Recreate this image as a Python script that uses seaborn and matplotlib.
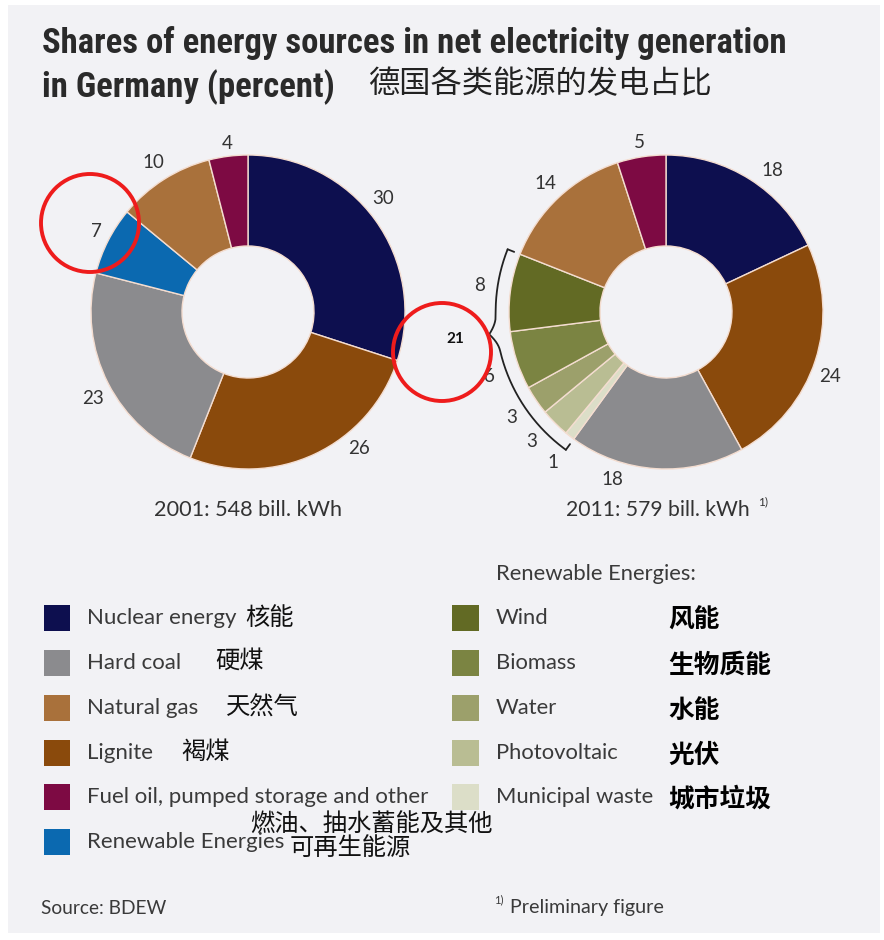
import numpy as np
import matplotlib
matplotlib.use("Agg")
import matplotlib.pyplot as plt
from matplotlib import font_manager
from matplotlib.patches import Rectangle, Circle
import seaborn as sns

# ---- data -------------------------------------------------------------
cats_2001 = ["Nuclear energy", "Lignite", "Hard coal", "Renewable Energies",
             "Natural gas", "Fuel oil, pumped storage and other"]
vals_2001 = [30, 26, 23, 7, 10, 4]

cats_2011 = ["Nuclear energy", "Lignite", "Hard coal", "Municipal waste",
             "Photovoltaic", "Water", "Biomass", "Wind", "Natural gas",
             "Fuel oil, pumped storage and other"]
vals_2011 = [18, 24, 18, 1, 3, 3, 6, 8, 14, 5]
renewables = ["Wind", "Biomass", "Water", "Photovoltaic", "Municipal waste"]

legend_main = ["Nuclear energy", "Hard coal", "Natural gas", "Lignite",
               "Fuel oil, pumped storage and other", "Renewable Energies"]
legend_main_zh = ["核能", "硬煤", "天然气", "褐煤", "燃油、抽水蓄能及其他", "可再生能源"]
legend_ren_zh = ["风能", "生物质能", "水能", "光伏", "城市垃圾"]

total_2001 = "2001: 548 bill. kWh"
total_2011 = "2011: 579 bill. kWh"

colors = {
    "Nuclear energy": "#0d0f4f",
    "Lignite": "#8a4a0c",
    "Hard coal": "#8b8b8e",
    "Renewable Energies": "#0b69b0",
    "Natural gas": "#a9713b",
    "Fuel oil, pumped storage and other": "#7d0a43",
    "Wind": "#626a24",
    "Biomass": "#7b8442",
    "Water": "#9ca06b",
    "Photovoltaic": "#b9bd93",
    "Municipal waste": "#dcdec8",
}

sns.set_theme(style="white")
plt.rcParams["font.family"] = ["Lato", "DejaVu Sans"]


def first_font(cands):
    for c in cands:
        try:
            font_manager.findfont(font_manager.FontProperties(family=c),
                                  fallback_to_default=False)
            return c
        except Exception:
            continue
    return "DejaVu Sans"


TITLE_FONT = first_font(["Liberation Sans Narrow", "Roboto Condensed",
                         "Open Sans Condensed", "Roboto", "Liberation Sans"])

W, H = 884, 940
fig = plt.figure(figsize=(W / 100, H / 100), dpi=100)
fig.patch.set_facecolor("white")

# background panel (pixel coordinates)
bg = fig.add_axes([0, 0, 1, 1], zorder=0)
bg.set_xlim(0, W)
bg.set_ylim(H, 0)
bg.axis("off")
bg.add_patch(Rectangle((8, 5), 872, 928, facecolor="#f2f2f5", edgecolor="none"))

TXT = "#333333"
R_OUT, R_IN = 157, 66
LIM = 1.5


def donut_axes(cx, cy):
    ax = fig.add_axes([(cx - R_OUT * LIM) / W, (H - cy - R_OUT * LIM) / H,
                       2 * LIM * R_OUT / W, 2 * LIM * R_OUT / H], zorder=2)
    return ax


def draw_donut(ax, cats, vals, angle_off, dists):
    pal = sns.color_palette([colors[c] for c in cats])
    wedges, _ = ax.pie(vals, colors=pal, startangle=90, counterclock=False,
                       radius=1.0,
                       wedgeprops=dict(width=1 - R_IN / R_OUT,
                                       edgecolor="#f4ddd0", linewidth=1.0))
    ax.set_xlim(-LIM, LIM)
    ax.set_ylim(-LIM, LIM)
    ax.set_aspect("equal")
    ax.axis("off")
    for w, v, off, d in zip(wedges, vals, angle_off, dists):
        mid = np.deg2rad((w.theta1 + w.theta2) / 2 + off)
        ax.text(d * np.cos(mid), d * np.sin(mid), str(v), ha="center",
                va="center", fontsize=13.5, color=TXT)
    return wedges


# ---- 2001 -------------------------------------------------------------
ax1 = donut_axes(248, 312)
draw_donut(ax1, cats_2001, vals_2001,
           angle_off=[4, 14, 2, -1, 0, 0],
           dists=[1.12, 1.12, 1.13, 1.09, 1.13, 1.08])

# ---- 2011 -------------------------------------------------------------
ax2 = donut_axes(666, 312)
w2 = draw_donut(ax2, cats_2011, vals_2011,
                angle_off=[-4.6, -3.6, -14, 1, -1, 0, 2, -1, 0, 0],
                dists=[1.13, 1.12, 1.12, 1.2, 1.19, 1.19, 1.2, 1.2, 1.12, 1.09])

# curly bracket around the renewable wedges
ren_w = [w for w, c in zip(w2, cats_2011) if c in renewables]
a0 = min(w.theta1 for w in ren_w)
a1 = max(w.theta2 for w in ren_w)
tip = (a0 + a1) / 2 - 9
th = np.linspace(a0, a1, 400)
r = 1.085 + 0.05 * np.clip(1 - np.abs(th - tip) / 6.0, 0, None) ** 2
ax2.plot(r * np.cos(np.deg2rad(th)), r * np.sin(np.deg2rad(th)),
         color="#222222", lw=1.3, solid_capstyle="round")
for a in (a0, a1):
    rr = np.array([1.085, 1.04])
    ax2.plot(rr * np.cos(np.deg2rad(a)), rr * np.sin(np.deg2rad(a)),
             color="#222222", lw=1.3)
ren_total = sum(v for v, c in zip(vals_2011, cats_2011) if c in renewables)
ax2.text(1.35 * np.cos(np.deg2rad(tip)), 1.35 * np.sin(np.deg2rad(tip)),
         str(ren_total), ha="center", va="center", fontsize=11,
         fontweight="bold", color="#111111")

# ---- overlay: titles, legend, notes -----------------------------------
ov = fig.add_axes([0, 0, 1, 1], zorder=3)
ov.set_xlim(0, W)
ov.set_ylim(H, 0)
ov.axis("off")

t1 = ov.text(42, 43, "Shares of energy sources in net electricity generation",
             family=[TITLE_FONT, "DejaVu Sans"], fontsize=24, fontweight="bold",
             color="#2a2a2a", va="center", ha="left")
renderer = fig.canvas.get_renderer()
width_px = t1.get_window_extent(renderer).width
title_size = 24 * 746 / width_px
t1.set_fontsize(title_size)
ov.text(42, 87, "in Germany (percent)", family=[TITLE_FONT, "DejaVu Sans"],
        fontsize=title_size, fontweight="bold", color="#2a2a2a", va="center",
        ha="left")
ov.text(368, 84, "德国各类能源的发电占比", family=["Noto Sans CJK SC"],
        fontsize=22.5, fontweight="light", color="#222222", va="center")

ov.text(248, 510, total_2001, ha="center", va="center", fontsize=15.6, color=TXT)
ov.text(566, 510, total_2011, ha="left", va="center", fontsize=15.2, color=TXT)
ov.text(758, 502, "1)", ha="left", va="center", fontsize=8.5, color=TXT)

# left legend
row_y = [618, 663, 708, 753, 797, 842]
zh_x = [245, 215, 226, 181, 250, 290]
zh_y = [618, 661, 708, 752, 825, 848]
for name, zh, y, zx, zy in zip(legend_main, legend_main_zh, row_y, zh_x, zh_y):
    ov.add_patch(Rectangle((44, y - 13), 26, 26, facecolor=colors[name],
                           edgecolor="none"))
    ov.text(87, y, name, fontsize=16, color="#3a3a3a", va="center", ha="left")
    ov.text(zx, zy, zh, family=["Noto Sans CJK SC"], fontsize=17.5,
            fontweight="light", color="#111111", va="center", ha="left")

# right legend
ov.text(496, 574, "Renewable Energies:", fontsize=15.8, color="#3a3a3a",
        va="center", ha="left")
for name, zh, y in zip(renewables, legend_ren_zh, row_y[:5]):
    ov.add_patch(Rectangle((452, y - 13), 27, 26, facecolor=colors[name],
                           edgecolor="none"))
    ov.text(496, y, name, fontsize=15.8, color="#3a3a3a", va="center", ha="left")
    ov.text(668, y + 2, zh, family=["Noto Sans CJK SC"], fontsize=18.5,
            fontweight="bold", color="#000000", va="center", ha="left")

ov.text(41, 908, "Source: BDEW", fontsize=13.8, color="#3a3a3a", va="center")
ov.text(494, 900, "1)", fontsize=8, color="#3a3a3a", va="center")
ov.text(510, 908, "Preliminary figure", fontsize=14.2, color="#3a3a3a",
        va="center")

# highlight circles
for cx, cy in [(90, 223), (442, 352)]:
    ov.add_patch(Circle((cx, cy), 49, facecolor="none", edgecolor="#ee1c1c",
                        linewidth=2.8))

fig.savefig("out.png", dpi=100, facecolor="white")
